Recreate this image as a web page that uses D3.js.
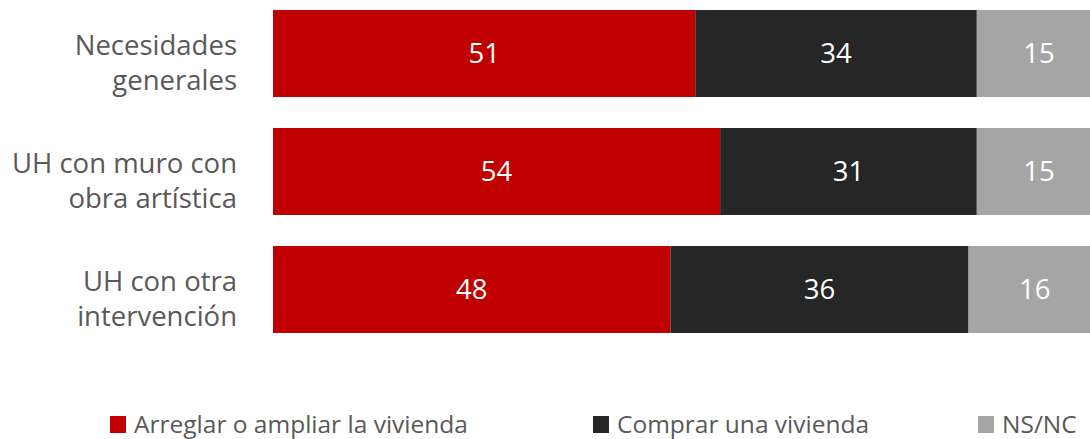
<!DOCTYPE html>
<html>
<head>
<meta charset="utf-8">
<script src="https://cdn.jsdelivr.net/npm/d3@7"></script>
<style>
  html, body { margin: 0; padding: 0; background: #fff; }
  svg { display: block; font-family: "Open Sans", "Noto Sans", sans-serif; }
</style>
</head>
<body>
<svg id="chart" width="1090" height="439"></svg>
<script>
// ---- Data ----
const categories = [
  ["Necesidades", "generales"],
  ["UH con muro con", "obra artística"],
  ["UH con otra", "intervención"]
];
const seriesNames = ["Arreglar o ampliar la vivienda", "Comprar una vivienda", "NS/NC"];
const arreglar = [51, 54, 48];
const comprar = [34, 31, 36];
const nsnc = [15, 15, 16];
const seriesColors = ["#C00000", "#262626", "#A5A5A5"];

// ---- Layout ----
const svg = d3.select("#chart");
const catKeys = categories.map((c, i) => i);
const x = d3.scaleLinear().domain([0, 100]).range([273, 1101]);
const y = d3.scaleBand().domain(catKeys).range([-5.5, 348.5]).paddingInner(0.263).paddingOuter(0.1315);

const stackData = catKeys.map(i => ({ i, s0: arreglar[i], s1: comprar[i], s2: nsnc[i] }));
const layers = d3.stack().keys(["s0", "s1", "s2"])(stackData);

const g = svg.append("g");
layers.forEach((layer, li) => {
  const lg = g.append("g");
  lg.selectAll("rect").data(layer).join("rect")
    .attr("x", d => x(d[0]))
    .attr("y", d => y(d.data.i))
    .attr("width", d => x(d[1]) - x(d[0]))
    .attr("height", y.bandwidth())
    .attr("fill", seriesColors[li]);
  lg.selectAll("text").data(layer).join("text")
    .attr("x", d => (x(d[0]) + x(d[1])) / 2)
    .attr("y", d => y(d.data.i) + y.bandwidth() / 2)
    .attr("dy", "0.36em")
    .attr("text-anchor", "middle")
    .attr("fill", "#fff")
    .attr("font-size", 27.5)
    .text(d => d[1] - d[0]);
});

// category labels
const lab = svg.append("g");
catKeys.forEach(i => {
  const cy = y(i) + y.bandwidth() / 2 + 9;
  const t = lab.append("text")
    .attr("text-anchor", "end")
    .attr("fill", "#595959")
    .attr("font-size", 27.5);
  categories[i].forEach((line, k) => {
    t.append("tspan")
      .attr("x", 237)
      .attr("y", cy + (k - 0.5) * 35)
      .attr("dy", "0.36em")
      .text(line);
  });
});

// legend
const legendX = [110, 593, 978];
const leg = svg.append("g");
seriesNames.forEach((name, k) => {
  leg.append("rect")
    .attr("x", legendX[k]).attr("y", 416)
    .attr("width", 16).attr("height", 17)
    .attr("fill", seriesColors[k]);
  leg.append("text")
    .attr("x", legendX[k] + 24).attr("y", 433)
    .attr("fill", "#595959")
    .attr("font-size", 24.5)
    .text(name);
});
</script>
</body>
</html>
